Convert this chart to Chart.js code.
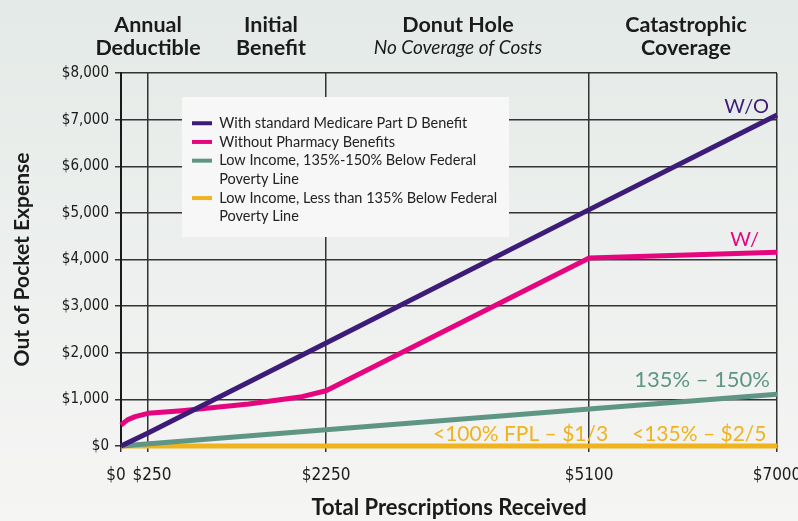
<!DOCTYPE html>
<html>
<head>
<meta charset="utf-8">
<script src="https://cdn.jsdelivr.net/npm/chart.js@4.4.1/dist/chart.umd.min.js"></script>
<style>
  html, body { margin: 0; padding: 0; overflow: hidden; background: #eceeec; }
  #wrap { width: 798px; height: 521px; position: relative; }
</style>
</head>
<body>
<div id="wrap"><canvas id="c"></canvas></div>
<script>
// ---------- DATA ----------
const xTickValues = [0, 250, 2250, 5100, 7000];           // total prescriptions received ($)
const yMin = 0, yMax = 8000, yStep = 1000;                 // out of pocket expense ($)
const seriesNames = [
  'With standard Medicare Part D Benefit',
  'Without Pharmacy Benefits',
  'Low Income, 135%-150% Below Federal Poverty Line',
  'Low Income, Less than 135% Below Federal Poverty Line'
];
const partDX = [0, 250, 2250, 5100, 7000];
const partDY = [0, 280, 2210, 5070, 7100];
const noBenefitX = [0, 60, 130, 250, 630, 1380, 1980, 2250, 5100, 7000];
const noBenefitY = [450, 560, 630, 700, 757, 900, 1058, 1185, 4030, 4155];
const lowIncome150X = [0, 2250, 5100, 7000];
const lowIncome150Y = [0, 350, 795, 1110];
const lowIncome135X = [0, 7000];
const lowIncome135Y = [0, 0];
const phaseHeadings = [['Annual', 'Deductible'], ['Initial', 'Benefit'], ['Donut Hole'], ['Catastrophic', 'Coverage']];
const phaseSubtitle = 'No Coverage of Costs';
const lineTags = ['W/O', 'W/', '135% \u2013 150%', '<100% FPL \u2013 $1/3', '<135% \u2013 $2/5'];

// ---------- STYLE ----------
const colors = ['#3d1b78', '#e5067f', '#5f9584', '#f0b31e'];
const FONT = "Lato, 'Open Sans', sans-serif";
const NARROW = "'Liberation Sans Narrow', 'DejaVu Sans Condensed', sans-serif";

// horizontal axis is drawn in phases (hand-scaled in the original): each tick interval gets its own share
const axisShares = [0, 0.0412, 0.3126, 0.7137, 1];
const tickLabelNudge = { 0: -5, 250: 4 };
function interp(v, from, to) {
  if (v <= from[0]) return to[0] + (v - from[0]) * (to[1] - to[0]) / (from[1] - from[0]);
  for (let i = 1; i < from.length; i++) {
    if (v <= from[i]) return to[i - 1] + (v - from[i - 1]) * (to[i] - to[i - 1]) / (from[i] - from[i - 1]);
  }
  const n = from.length - 1;
  return to[n] + (v - from[n]) * (to[n] - to[n - 1]) / (from[n] - from[n - 1]);
}
class PhaseScale extends Chart.LinearScale {
  getPixelForValue(value) {
    if (value === null || value === undefined) return NaN;
    return this.getPixelForDecimal(interp(value, xTickValues, axisShares));
  }
  getValueForPixel(pixel) {
    return interp(this.getDecimalForPixel(pixel), axisShares, xTickValues);
  }
  _computeLabelItems(chartArea) {
    const items = super._computeLabelItems(chartArea);
    items.forEach((it, i) => {
      const t = this.ticks[i];
      if (t && tickLabelNudge[t.value] !== undefined && it.options && it.options.translation) {
        it.options.translation[0] += tickLabelNudge[t.value];
      }
    });
    return items;
  }
}
PhaseScale.id = 'phase';
PhaseScale.defaults = {};
Chart.register(PhaseScale);

const toPoints = (xs, ys) => xs.map((x, i) => ({ x: x, y: ys[i] }));

const bgPlugin = {
  id: 'bg',
  beforeDraw(chart) {
    const { ctx, width, height } = chart;
    const g = ctx.createLinearGradient(0, 0, 0, height);
    g.addColorStop(0, '#e4eae7');
    g.addColorStop(1, '#f5f5f4');
    ctx.save();
    ctx.fillStyle = g;
    ctx.fillRect(0, 0, width, height);
    ctx.restore();
  }
};

const legendBoxPlugin = {
  id: 'legendBox',
  afterLayout(chart) {
    const lg = chart.legend;
    if (!lg) return;
    lg.left = 192; lg.top = 116; lg.width = 316; lg.height = 125;
    lg.right = lg.left + lg.width; lg.bottom = lg.top + lg.height;
  },
  beforeDatasetsDraw(chart) {
    const ctx = chart.ctx;
    ctx.save();
    ctx.fillStyle = '#f7f7f7';
    ctx.fillRect(182, 97, 327, 140);
    ctx.restore();
    chart.legend.draw();
  }
};

const textPlugin = {
  id: 'texts',
  afterDraw(chart) {
    const ctx = chart.ctx;
    ctx.save();
    // phase headings
    ctx.fillStyle = '#1b1b1b';
    ctx.textAlign = 'center';
    ctx.textBaseline = 'alphabetic';
    const centers = [148, 271, 458, 686];
    ctx.font = 'bold 21.5px ' + FONT;
    phaseHeadings.forEach((lines, i) => {
      lines.forEach((t, j) => ctx.fillText(t, centers[i], 32 + j * 23));
    });
    ctx.font = 'italic 19px ' + FONT;
    ctx.fillText(phaseSubtitle, centers[2], 54);
    // line tags
    ctx.font = '20px ' + FONT;
    ctx.textAlign = 'right';
    ctx.fillStyle = colors[0]; ctx.fillText(lineTags[0], 769, 113);
    ctx.fillStyle = colors[1]; ctx.fillText(lineTags[1], 759, 246);
    ctx.font = '22px ' + FONT;
    ctx.fillStyle = colors[2]; ctx.fillText(lineTags[2], 770, 387);
    ctx.font = '21px ' + FONT;
    ctx.textAlign = 'left';
    ctx.fillStyle = colors[3];
    ctx.fillText(lineTags[3], 433, 441);
    ctx.fillText(lineTags[4], 632, 441);
    ctx.restore();
  }
};

const ds = (i, xs, ys, extra) => Object.assign({
  label: seriesNames[i],
  data: toPoints(xs, ys),
  borderColor: colors[i],
  backgroundColor: colors[i],
  borderWidth: 5,
  borderJoinStyle: 'round',
  borderCapStyle: 'butt',
  pointRadius: 0,
  tension: 0,
  clip: false
}, extra || {});

new Chart(document.getElementById('c'), {
  type: 'line',
  data: {
    datasets: [
      ds(0, partDX, partDY),
      ds(1, noBenefitX, noBenefitY),
      ds(2, lowIncome150X, lowIncome150Y),
      ds(3, lowIncome135X, lowIncome135Y)
    ]
  },
  options: {
    responsive: true,
    maintainAspectRatio: false,
    animation: false,
    events: [],
    layout: { padding: { left: 0, top: 73, right: 21, bottom: 0 } },
    plugins: {
      tooltip: { enabled: false },
      legend: {
        position: 'chartArea',
        align: 'start',
        labels: {
          boxWidth: 20,
          boxHeight: 4,
          padding: 0,
          color: '#222',
          font: { family: FONT, size: 14.5, lineHeight: 1.29 },
          generateLabels(chart) {
            const items = Chart.defaults.plugins.legend.labels.generateLabels(chart);
            items.forEach(it => {
              it.text = it.text.replace(' Poverty Line', '\nPoverty Line').split('\n');
              it.lineWidth = 0;
              it.fillStyle = it.strokeStyle;
            });
            return items;
          }
        }
      }
    },
    scales: {
      x: {
        type: 'phase',
        min: 0,
        max: 7000,
        afterBuildTicks(s) { s.ticks = xTickValues.map(v => ({ value: v })); },
        afterFit(s) { s.height = 75; s.paddingLeft = 0; s.paddingRight = 0; },
        grid: { color: '#333', lineWidth: 1.5, tickLength: 6, tickColor: '#333' },
        border: { color: '#1a1a1a', width: 2 },
        ticks: {
          autoSkip: false, maxRotation: 0, minRotation: 0, padding: 13,
          color: '#1b1b1b',
          font: { family: NARROW, size: 17 },
          callback: v => '$' + v
        },
        title: {
          display: true,
          text: 'Total Prescriptions Received',
          color: '#1b1b1b',
          font: { family: FONT, size: 22, weight: 'bold' },
          padding: { top: 0, bottom: 0 }
        }
      },
      y: {
        min: yMin,
        max: yMax,
        afterFit(s) { s.width = 121; s.paddingTop = 0; s.paddingBottom = 0; },
        grid: { color: '#333', lineWidth: 1.5, tickLength: 6, tickColor: '#333' },
        border: { color: '#1a1a1a', width: 2 },
        ticks: {
          stepSize: yStep, padding: 6,
          color: '#1b1b1b',
          font: { family: NARROW, size: 15 },
          callback: v => '$' + Number(v).toLocaleString('en-US')
        },
        title: {
          display: true,
          text: 'Out of Pocket Expense',
          color: '#1b1b1b',
          font: { family: FONT, size: 21, weight: 'bold' },
          padding: { top: 9.4, bottom: 0 }
        }
      }
    }
  },
  plugins: [bgPlugin, legendBoxPlugin, textPlugin]
});
</script>
</body>
</html>
